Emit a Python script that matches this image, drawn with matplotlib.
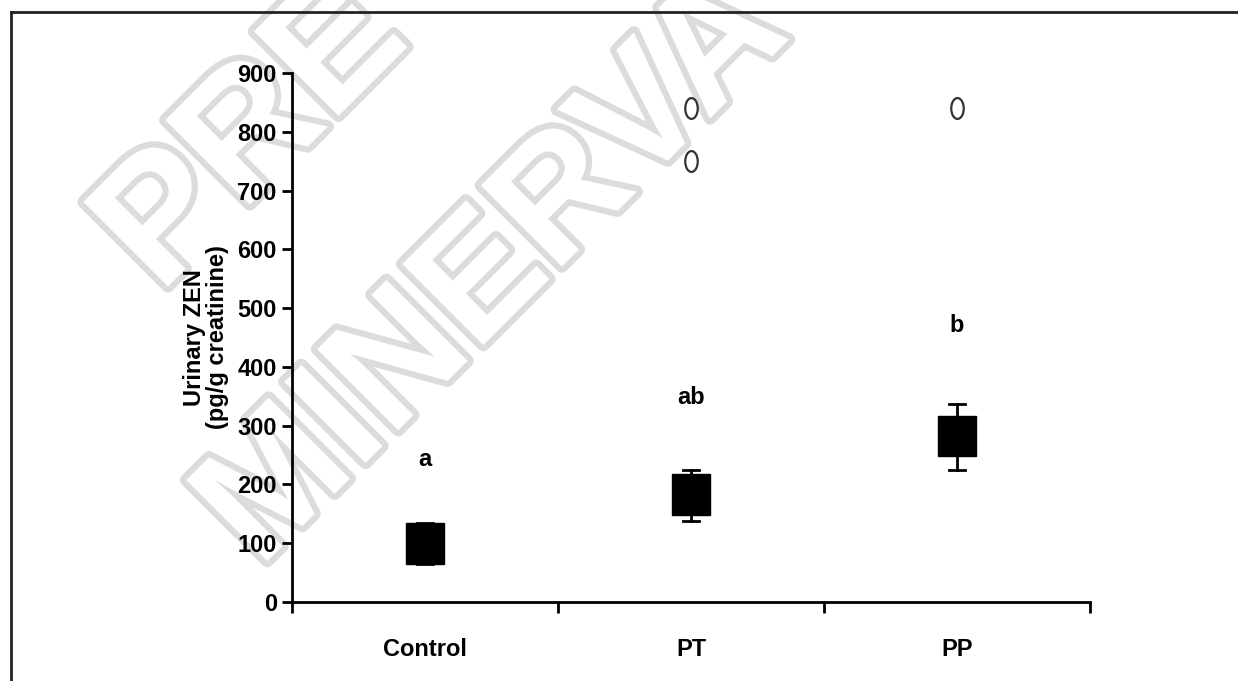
import matplotlib
matplotlib.use("Agg")
import matplotlib.pyplot as plt
import matplotlib.patheffects as pe
from matplotlib.path import Path
from matplotlib.transforms import Affine2D
from matplotlib.lines import Line2D

plt.rcParams['font.family'] = ['Liberation Sans', 'DejaVu Sans']

# Data
groups = ["Control", "PT", "PP"]
q1 = [65, 148, 248]
q3 = [135, 217, 317]
whisker_low = [65, 137, 225]
whisker_high = [135, 225, 337]
outliers = [[], [840, 750], [840]]
letters = ["a", "ab", "b"]
letter_y = [242, 348, 470]

fig = plt.figure(figsize=(12.38, 6.81), dpi=100)
ax = fig.add_axes([0.2359, 0.116, 0.6446, 0.7768])
ax.patch.set_alpha(0)
ax.set_zorder(1)

# Watermark (outlined text behind the chart)
wm = dict(color='white', fontweight='bold', rotation=45, ha='center', va='center',
          zorder=-5, family='Liberation Sans',
          path_effects=[pe.withStroke(linewidth=9, foreground='#dcdcdc')])
fig.text(0.205, 0.80, "PRE", fontsize=125, **wm)
fig.text(0.40, 0.60, "MINERVA", fontsize=120, **wm)

# Page frame lines (left and top)
fig.add_artist(Line2D([11 / 1238, 11 / 1238], [0, 1 - 12 / 681], color='#222222', lw=2))
fig.add_artist(Line2D([11 / 1238, 1], [1 - 12 / 681, 1 - 12 / 681], color='#222222', lw=2))

# oval "o" marker for outliers
oval = Path.unit_circle().transformed(Affine2D().scale(0.6, 1.0))

stats = []
for i, g in enumerate(groups):
    med = (q1[i] + q3[i]) / 2
    stats.append(dict(label=g, med=med, q1=q1[i], q3=q3[i],
                      whislo=whisker_low[i], whishi=whisker_high[i],
                      fliers=outliers[i]))
positions = [i + 0.5 for i in range(len(groups))]
ax.bxp(stats, positions=positions, widths=0.14, patch_artist=True,
       capwidths=0.06, showfliers=True,
       boxprops=dict(facecolor='black', edgecolor='black', linewidth=1),
       medianprops=dict(color='black', linewidth=1),
       whiskerprops=dict(color='black', linewidth=2),
       capprops=dict(color='black', linewidth=2),
       flierprops=dict(marker=oval, markersize=15, markerfacecolor='none',
                       markeredgecolor='#333333', markeredgewidth=1.6))

for i, t in enumerate(letters):
    ax.text(positions[i], letter_y[i], t, ha='center', va='center',
            fontsize=17, fontweight='bold')

ax.set_xlim(0, 3)
ax.set_ylim(0, 900)
ax.set_yticks(range(0, 901, 100))
ax.set_xticks([0, 1, 2, 3])
ax.set_xticklabels([])
ax.set_xticks(positions, minor=True)
ax.set_xticklabels(groups, minor=True, fontsize=17, fontweight='bold')
ax.tick_params(axis='x', which='major', direction='out', length=8, width=2)
ax.tick_params(axis='x', which='minor', length=0, pad=26)
ax.tick_params(axis='y', direction='out', length=7, width=2, pad=4, labelsize=17)
for lab in ax.get_yticklabels():
    lab.set_fontweight('bold')

for s in ['top', 'right']:
    ax.spines[s].set_visible(False)
for s in ['left', 'bottom']:
    ax.spines[s].set_linewidth(2)

ax.set_ylabel("Urinary ZEN\n(pg/g creatinine)", fontsize=17, fontweight='bold',
              labelpad=6, linespacing=1.0)

fig.savefig("out.png", dpi=100)
